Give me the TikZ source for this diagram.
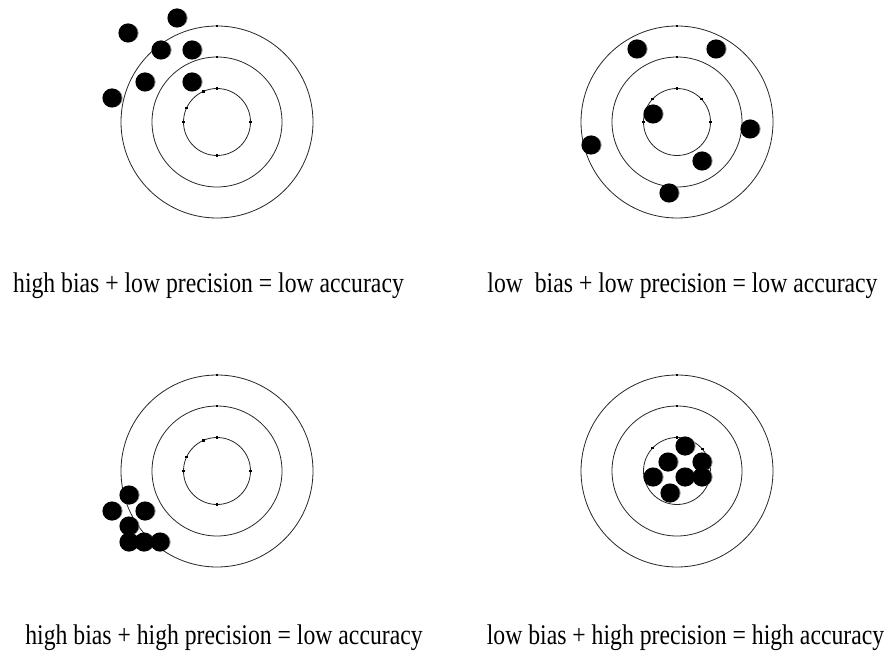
\documentclass[tikz,border=0pt]{standalone}
\usepackage{fontspec}
\setmainfont{Liberation Serif}
\usetikzlibrary{positioning}
\tikzset{
  ring/.style={draw=black!85,line width=0.8pt},
  shot/.style={fill=black},
  rim/.style={fill=black!45},
  tick/.style={fill=black},
  lab/.style={font=\fontsize{23.7}{28}\selectfont,anchor=base,inner sep=0pt},
}
\newcommand{\tallcap}[1]{\scalebox{1}[1.2]{#1}}

\begin{document}
\begin{tikzpicture}[x=1pt,y=-1pt]
\useasboundingbox (0,0) rectangle (885,652);
% target centres
\coordinate (t1) at (217,122);
\coordinate (t2) at (677,122);
\coordinate (t3) at (217,471);
\coordinate (t4) at (677,471);
% rings, with a mark on top of each
\foreach \t in {t1,t2,t3,t4}{
  \foreach \r in {33.5,65,96}{
    \draw[ring] (\t) circle[radius=\r];
    \fill[tick] ([shift={(0,-\r)}]\t) +(-1.3,-1.3) rectangle +(1.3,1.3);
  }
}
% extra marks on the inner rings
\foreach \t/\a in {t1/0,t1/180,t1/270,t1/155,t1/114,t3/0,t3/180,t3/270,t3/155,t3/114,
                   t2/0,t2/180,t2/43,t2/137,t4/41,t4/137}
  \fill[tick] ([shift={(-\a:33.5)}]\t) +(-1.3,-1.3) rectangle +(1.3,1.3);
% shots
\foreach \px/\py in {177/18,128/33,161/50,192/50,145/82,192/82,112/98,
                     637/49,716/49,653/114,750/129,591/145,702/161,669/193,
                     129/495,112/511,145/511,129/526,129/542,144/542,160/542,
                     685/446,668/462,702/462,653/477,685/477,702/477,670/493}{
  \fill[rim] (\px+1.6,\py) circle[radius=9];
  \fill[shot] (\px,\py) circle[radius=9.6];
}
% captions
\node[lab] (cap1) at (208.5,292) {\tallcap{high bias + low precision = low accuracy}};
\node[lab] (cap2) at (682.5,292) {\tallcap{low\ \ bias + low precision = low accuracy}};
\node[lab] (cap3) at (224,644) {\tallcap{high bias + high precision = low accuracy}};
\node[lab] (cap4) at (685.5,644) {\tallcap{low bias + high precision = high accuracy}};
\end{tikzpicture}
\end{document}
